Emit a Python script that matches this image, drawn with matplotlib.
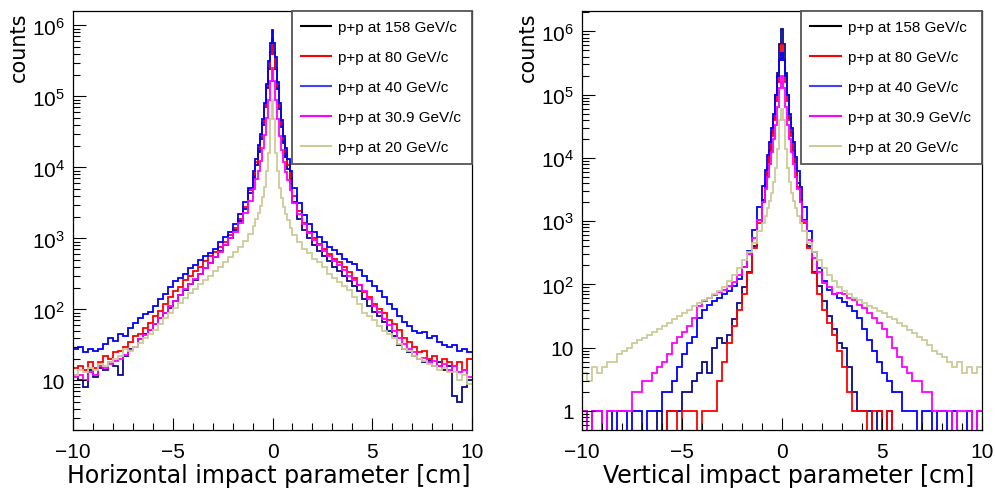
import numpy as np
import matplotlib
matplotlib.use("Agg")
import matplotlib.pyplot as plt
from matplotlib.ticker import FixedLocator, FuncFormatter, LogLocator, NullFormatter
from matplotlib.lines import Line2D

# ---- bin edges (cm), shared by both panels ----
half = [0.05, 0.15, 0.25, 0.35, 0.45, 0.55, 0.65, 0.75, 0.875, 1.0] + list(np.arange(1.25, 10.01, 0.25))
edges = [-e for e in half[::-1]] + half

labels = ["p+p at 158 GeV/c", "p+p at 80 GeV/c", "p+p at 40 GeV/c",
          "p+p at 30.9 GeV/c", "p+p at 20 GeV/c"]

# ---- horizontal impact parameter: counts per bin, left to right ----
h158 = [12, 10, 8, 14, 11, 15, 14, 18, 16, 12, 22, 28, 30, 38, 45, 52, 62, 75, 90, 105,
        130, 160, 190, 225, 260, 320, 380, 450, 540, 660, 800, 1000, 1300, 1750, 2600, 4300,
        7200, 11000, 16500, 25000, 40000, 70000, 130000, 240000, 420000,
        650000,
        420000, 240000, 126000, 66000, 37000, 22000, 14000, 9500, 6000, 3300,
        1900, 1300, 1000, 800, 660, 560, 480, 400, 350, 300, 250, 215, 180, 140, 112, 93, 80, 66,
        50, 42, 32, 28, 25, 22, 20, 18, 19, 16, 18, 14, 16, 6, 5, 8, 10]
h80 = [15, 16, 14, 18, 15, 18, 22, 20, 25, 26, 30, 35, 42, 45, 55, 65, 80, 95, 120, 150,
       180, 210, 260, 300, 350, 400, 480, 560, 640, 750, 900, 1100, 1400, 1900, 2800, 4800,
       8000, 12000, 18000, 27000, 42000, 72000, 140000, 250000, 400000,
       600000,
       400000, 250000, 140000, 70000, 40000, 25000, 16500, 11000, 7000, 4000,
       2400, 1650, 1250, 1000, 830, 700, 600, 520, 460, 400, 340, 280, 220, 175, 150, 120, 100, 90,
       70, 63, 52, 40, 35, 30, 25, 26, 20, 22, 16, 20, 18, 16, 18, 14, 20]
h40 = [28, 30, 25, 28, 26, 28, 33, 40, 36, 45, 42, 55, 65, 75, 85, 93, 112, 140, 165, 210,
       250, 280, 320, 380, 420, 500, 570, 630, 720, 900, 1050, 1250, 1600, 2200, 3300, 5200,
       9000, 13000, 21000, 30000, 48000, 80000, 150000, 316000, 560000,
       850000,
       560000, 355000, 160000, 80000, 46000, 28000, 19000, 13000, 9000, 5200,
       3200, 2150, 1600, 1250, 1050, 890, 760, 680, 600, 520, 460, 430, 360, 300, 250, 215, 180, 150,
       120, 100, 80, 66, 58, 50, 46, 48, 40, 42, 35, 32, 30, 32, 26, 28, 25]
h31 = [11, 12, 10, 13, 12, 16, 15, 17, 19, 20, 23, 27, 30, 38, 44, 52, 62, 75, 90, 110,
       130, 160, 195, 230, 270, 320, 380, 450, 540, 650, 800, 1000, 1250, 1650, 2300, 3400,
       5000, 6800, 9000, 12500, 18500, 29000, 50000, 90000, 166000,
       250000,
       166000, 89000, 48000, 28000, 17800, 12000, 8500, 6600, 4800, 3200,
       2200, 1600, 1200, 950, 800, 660, 560, 480, 420, 355, 300, 260, 220, 180, 140, 112, 93, 74,
       60, 50, 40, 33, 28, 25, 20, 21, 18, 19, 16, 17, 14, 16, 13, 14, 11]
h20 = [12, 14, 13, 15, 14, 17, 16, 18, 20, 22, 28, 26, 30, 34, 40, 45, 52, 62, 75, 90,
       105, 125, 145, 170, 195, 225, 260, 300, 350, 400, 470, 540, 640, 750, 920, 1150,
       1500, 1850, 2300, 2900, 3800, 5300, 9000, 16000, 48000,
       90000,
       48000, 16000, 9000, 5200, 3700, 2800, 2200, 1800, 1400, 1100,
       900, 720, 620, 520, 460, 400, 320, 280, 245, 215, 185, 150, 120, 90, 80, 70, 58, 50,
       45, 40, 33, 28, 26, 22, 20, 19, 17, 16, 14, 15, 13, 13, 10, 12, 9]

# ---- vertical impact parameter: counts per bin, left to right ----
v158 = [0, 0, 0, 0, 0, 0, 0, 0, 0, 0, 0, 0, 0, 0, 0,
        1, 0, 1, 1, 1, 2, 2, 3, 4, 6, 4, 10, 14, 12, 16, 28, 50, 90, 160, 400, 1050,
        2200, 4000, 7000, 13000, 25000, 42000, 100000, 220000, 630000,
        1100000,
        630000, 220000, 100000, 42000, 25000, 13000, 7000, 4000, 2200,
        1050, 400, 160, 95, 55, 32, 20, 12, 10, 5, 2, 1, 1, 1, 0, 1, 0, 1, 0,
        0, 0, 0, 0, 0, 0, 0, 0, 0, 0, 0, 0, 0, 0, 0, 0, 0]
v80 = [0, 0, 0, 0, 0, 0, 0, 0, 0, 0, 0, 0, 0, 0, 0,
       0, 0, 1, 1, 0, 1, 1, 1, 0, 1, 1, 1, 3, 6, 12, 22, 40, 70, 150, 370, 950,
       2000, 3500, 6600, 12000, 22000, 40000, 80000, 160000, 350000,
       600000,
       350000, 160000, 80000, 40000, 22000, 12000, 6600, 3500, 2000,
       950, 370, 150, 70, 40, 25, 16, 9, 5, 2, 1, 1, 1, 0, 1, 1, 0, 1, 0,
       0, 0, 0, 0, 0, 0, 0, 0, 0, 0, 0, 0, 0, 0, 0, 0, 0]
v40 = [1, 0, 1, 1, 0, 1, 0, 1, 1, 0, 1, 1, 0, 1, 1,
       1, 2, 2, 3, 5, 8, 12, 15, 30, 40, 48, 55, 62, 70, 80, 95, 120, 190, 340, 720, 1700,
       3600, 6500, 11000, 18000, 30000, 50000, 100000, 200000, 350000,
       450000,
       350000, 200000, 100000, 50000, 30000, 18000, 10500, 6300, 3500,
       1650, 700, 320, 180, 112, 83, 70, 60, 52, 45, 38, 30, 20, 13, 9, 6, 4, 3, 2, 2,
       1, 1, 1, 0, 1, 1, 0, 1, 1, 0, 1, 0, 0, 1, 0, 1]
v31 = [1, 0, 1, 1, 0, 1, 1, 1, 1, 1, 2, 2, 3, 3, 4,
       5, 6, 8, 12, 15, 18, 22, 30, 45, 55, 60, 68, 75, 82, 95, 110, 140, 190, 300, 550, 1050,
       2000, 3200, 5000, 8000, 12600, 20000, 33000, 63000, 126000,
       200000,
       126000, 63000, 33000, 20000, 12600, 8000, 5000, 3200, 2000,
       1000, 500, 260, 160, 105, 90, 70, 72, 70, 62, 56, 48, 42, 35, 30, 25, 20, 15, 10, 7,
       5, 4, 3, 3, 2, 2, 1, 1, 1, 1, 0, 1, 1, 1, 0, 1]
v20 = [4, 3, 5, 4, 5, 6, 6, 8, 9, 10, 12, 13, 14, 16, 18,
       20, 22, 25, 28, 32, 36, 40, 45, 50, 56, 62, 70, 78, 90, 112, 140, 180, 240, 320, 450, 700,
       950, 1200, 1600, 2100, 2800, 4200, 7000, 14000, 40000,
       60000,
       40000, 14000, 7000, 4200, 2800, 2100, 1600, 1200, 950,
       700, 450, 320, 240, 180, 140, 112, 90, 78, 70, 62, 56, 50, 46, 42, 38, 35, 31, 28, 25,
       22, 19, 17, 15, 13, 11, 9, 8, 7, 6, 5, 6, 4, 5, 4, 5]

colors = ["#0a0a8c", "#ff0000", "#0000ff", "#ff00ff", "#cccc99"]
legend_colors = ["#000000", "#ff0000", "#4040ff", "#ff00ff", "#cccc99"]

fig = plt.figure(figsize=(9.96, 4.89), dpi=100)
ax1 = fig.add_axes([73 / 996, 1 - 431 / 489, 399 / 996, 419 / 489])
ax2 = fig.add_axes([582 / 996, 1 - 431 / 489, 400 / 996, 419 / 489])

tick_font = "Liberation Sans"


def ylab(v, pos):
    if v < 1.5:
        return "1"
    if v < 15:
        return "10"
    return r"$\mathregular{10^{%d}}$" % round(np.log10(v))


def setup(ax, xlabel, ymin, ymax, ymajor, xlab_pos):
    ax.set_yscale("log")
    ax.set_xlim(-10, 10)
    ax.set_ylim(ymin, ymax)
    ax.xaxis.set_major_locator(FixedLocator([-10, -5, 0, 5, 10]))
    ax.xaxis.set_minor_locator(FixedLocator(range(-10, 11)))
    ax.yaxis.set_major_locator(FixedLocator(ymajor))
    ax.yaxis.set_minor_locator(LogLocator(base=10, subs=np.arange(2, 10), numticks=20))
    ax.yaxis.set_minor_formatter(NullFormatter())
    ax.yaxis.set_major_formatter(FuncFormatter(ylab))
    ax.tick_params(which="both", direction="in", top=False, right=False, width=0.8)
    ax.tick_params(which="major", length=9, labelsize=15)
    ax.tick_params(axis="x", which="major", pad=9)
    ax.tick_params(axis="y", which="major", pad=6)
    ax.tick_params(which="minor", length=5)
    for lab in ax.get_xticklabels() + ax.get_yticklabels():
        lab.set_fontfamily(tick_font)
    ax.set_xlabel(xlabel, loc="right", fontsize=17, labelpad=1)
    ax.xaxis.label.set_x(xlab_pos)
    ax.set_ylabel("counts", loc="top", fontsize=15, labelpad=2)
    for sp in ax.spines.values():
        sp.set_linewidth(0.9)


setup(ax1, "Horizontal impact parameter [cm]", 2.0, 1.6e6, [10, 1e2, 1e3, 1e4, 1e5, 1e6], 0.996)
setup(ax2, "Vertical impact parameter [cm]", 0.5, 2.1e6, [1, 10, 1e2, 1e3, 1e4, 1e5, 1e6], 0.98)

for ax, series in [(ax1, [h158, h80, h40, h31, h20]),
                   (ax2, [v158, v80, v40, v31, v20])]:
    for vals, c in zip(series, colors):
        ax.stairs(vals, edges, color=c, lw=1.3, baseline=None)
    handles = [Line2D([], [], color=c, lw=1.5) for c in legend_colors]
    leg = ax.legend(handles, labels, loc="upper right",
                    bbox_to_anchor=(0.548, 0.64, 0.452, 0.36), mode="expand",
                    borderaxespad=0, fancybox=False, framealpha=1,
                    prop={"family": tick_font, "size": 11},
                    handlelength=2.0, handletextpad=0.45, labelspacing=1.05,
                    borderpad=0.6)
    leg.get_frame().set_edgecolor("#555555")
    leg.get_frame().set_linewidth(1.3)

fig.savefig("out.png", dpi=100)
